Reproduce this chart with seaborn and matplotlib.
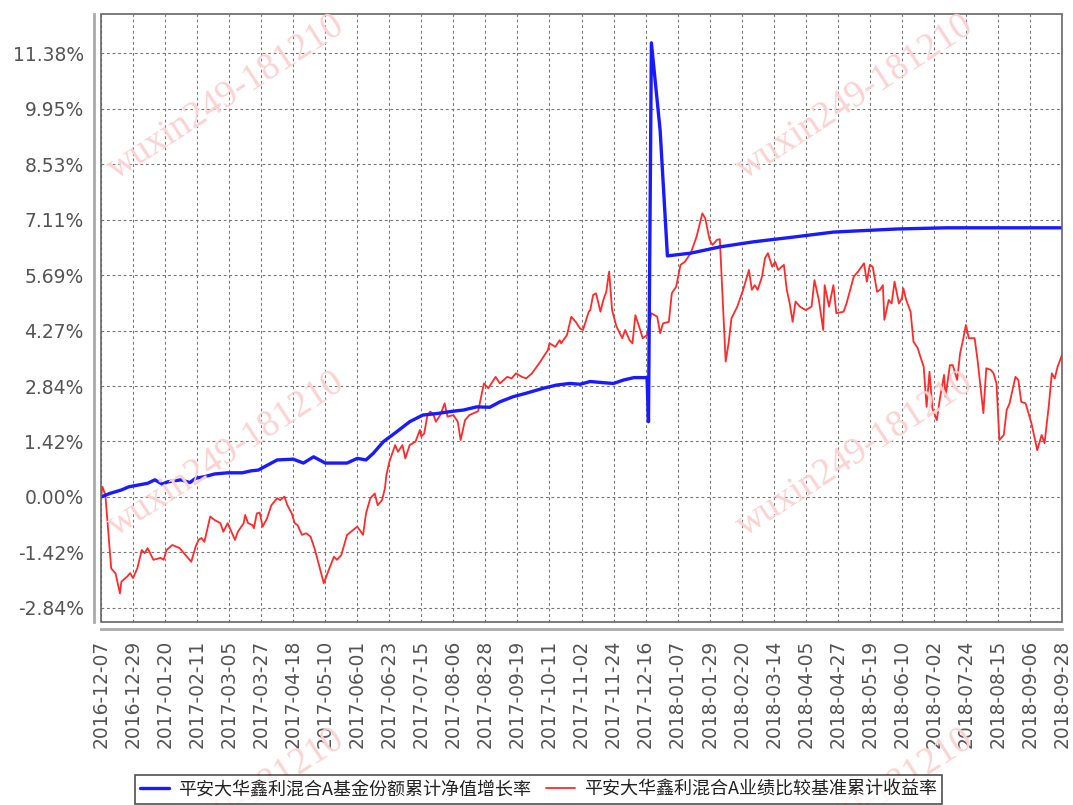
import pandas as pd
import numpy as np
import matplotlib
matplotlib.use('Agg')
import matplotlib.pyplot as plt
import matplotlib.patches as mpatches
import seaborn as sns

# days since 2016-12-07 and cumulative returns (%)
blue_day = [0, 6, 14, 19, 26, 32, 37, 42, 46, 55, 61, 65, 71, 78, 87, 97, 103, 108,
            121, 132, 139, 146, 154, 169, 176, 182, 187, 194, 203, 212, 221, 231,
            240, 249, 258, 267, 274, 283, 292, 304, 313, 322, 329, 336, 345, 352,
            359, 366, 375, 376, 378, 384, 389, 405, 425, 448, 475, 503, 519, 547,
            581, 620, 660]
blue_val = [0.00, 0.09, 0.18, 0.26, 0.31, 0.35, 0.44, 0.33, 0.39, 0.44, 0.37, 0.48,
            0.52, 0.59, 0.62, 0.62, 0.67, 0.69, 0.95, 0.97, 0.87, 1.03, 0.87, 0.87,
            0.99, 0.95, 1.12, 1.42, 1.67, 1.93, 2.10, 2.14, 2.19, 2.23, 2.31, 2.30,
            2.44, 2.57, 2.66, 2.79, 2.87, 2.91, 2.89, 2.96, 2.93, 2.91, 3.00, 3.06,
            3.06, 1.93, 11.64, 9.40, 6.18, 6.25, 6.41, 6.54, 6.66, 6.79, 6.82, 6.87,
            6.90, 6.90, 6.90]

red_day = [0, 1, 3, 7, 10, 13, 14, 18, 20, 22, 25, 28, 30, 32, 36, 41, 43, 45, 49,
           54, 59, 62, 65, 67, 69, 71, 75, 78, 82, 84, 87, 90, 92, 94, 98, 99, 101,
           104, 105, 107, 109, 111, 114, 117, 121, 123, 126, 128, 131, 133, 135, 138,
           141, 144, 147, 150, 153, 156, 160, 162, 165, 169, 173, 176, 180, 182, 185,
           188, 190, 193, 195, 196, 198, 202, 204, 207, 209, 212, 216, 219, 220, 222,
           224, 226, 228, 230, 233, 236, 238, 242, 245, 247, 250, 253, 259, 263, 266,
           271, 274, 279, 282, 285, 289, 292, 296, 301, 307, 308, 312, 315, 316, 320,
           323, 326, 329, 331, 335, 336, 338, 340, 343, 345, 347, 349, 351, 354, 358,
           360, 363, 365, 367, 370, 372, 375, 378, 382, 384, 386, 390, 392, 395, 398,
           401, 405, 409, 413, 415, 418, 420, 423, 425, 429, 431, 433, 437, 441, 445,
           447, 449, 451, 454, 456, 458, 461, 463, 465, 469, 471, 473, 475, 477, 480,
           484, 488, 490, 493, 496, 497, 500, 503, 505, 510, 512, 517, 520, 524, 526,
           528, 530, 533, 535, 537, 538, 541, 543, 545, 548, 550, 551, 553, 556, 558,
           561, 562, 565, 567, 569, 571, 574, 576, 579, 580, 583, 585, 588, 590, 592,
           594, 596, 600, 602, 605, 606, 608, 611, 613, 615, 617, 620, 622, 624, 628,
           630, 632, 635, 639, 643, 646, 648, 651, 653, 655, 657, 660]
red_val = [0.00, 0.26, 0.05, -1.83, -1.96, -2.47, -2.17, -2.04, -1.95, -2.08, -1.82,
           -1.36, -1.44, -1.31, -1.61, -1.56, -1.61, -1.36, -1.23, -1.31, -1.53, -1.66,
           -1.27, -1.10, -1.05, -1.15, -0.50, -0.59, -0.67, -0.89, -0.67, -0.93, -1.10,
           -0.89, -0.67, -0.46, -0.67, -0.72, -0.80, -0.42, -0.40, -0.76, -0.55, -0.21,
           -0.03, -0.08, 0.01, -0.21, -0.42, -0.67, -0.72, -0.97, -0.93, -1.02, -1.36,
           -1.79, -2.21, -1.91, -1.53, -1.61, -1.49, -0.97, -0.85, -0.76, -0.97, -0.42,
           -0.03, 0.09, -0.21, -0.08, 0.22, 0.56, 0.90, 1.33, 1.16, 1.33, 0.99, 1.33,
           1.42, 1.72, 1.55, 1.63, 2.06, 2.19, 2.14, 1.93, 2.10, 2.40, 2.06, 2.10, 1.93,
           1.46, 1.97, 2.10, 2.20, 2.91, 2.79, 3.08, 2.91, 3.08, 3.04, 3.17, 3.08, 3.04,
           3.17, 3.43, 3.77, 3.94, 3.85, 4.02, 3.94, 4.15, 4.62, 4.49, 4.32, 4.28, 4.75,
           4.79, 5.18, 5.22, 4.75, 5.05, 5.26, 5.78, 4.79, 4.37, 4.07, 4.28, 4.02, 3.94,
           4.66, 4.32, 4.07, 4.15, 4.71, 4.62, 4.20, 4.45, 4.49, 5.22, 5.39, 5.95, 6.03,
           6.25, 6.67, 7.27, 7.14, 6.59, 6.46, 6.59, 6.61, 3.47, 3.94, 4.58, 4.88, 5.31,
           5.82, 5.31, 5.43, 5.31, 5.65, 6.12, 6.25, 5.90, 6.03, 5.82, 5.95, 5.31, 4.96,
           4.49, 5.01, 4.88, 4.79, 4.88, 5.56, 5.05, 4.28, 5.43, 4.88, 5.43, 4.71, 4.75,
           4.96, 5.65, 5.78, 5.99, 5.52, 5.95, 5.90, 5.26, 5.31, 5.43, 4.54, 5.05, 4.96,
           5.52, 4.96, 5.09, 5.35, 5.05, 4.75, 3.98, 3.81, 3.68, 3.34, 2.31, 3.21, 2.27,
           1.97, 2.49, 3.13, 2.57, 3.38, 3.38, 3.00, 3.68, 4.02, 4.41, 4.07, 4.07, 3.51,
           2.49, 2.15, 3.30, 3.26, 3.17, 2.91, 1.46, 1.59, 2.23, 2.40, 3.08, 3.00, 2.44,
           2.40, 1.89, 1.20, 1.59, 1.38, 2.36, 3.17, 3.04, 3.34, 3.64]

start = pd.Timestamp('2016-12-07')
tick_dates = pd.date_range(start, periods=31, freq='22D')
ytick_vals = [-2.845, -1.4225, 0.0, 1.4225, 2.845, 4.2675, 5.69, 7.1125, 8.535, 9.9575, 11.38]
ytick_labels = ['-2.84%', '-1.42%', '0.00%', '1.42%', '2.84%', '4.27%', '5.69%',
                '7.11%', '8.53%', '9.95%', '11.38%']
blue_name = '平安大华鑫利混合A基金份额累计净值增长率'
red_name = '平安大华鑫利混合A业绩比较基准累计收益率'

blue = pd.DataFrame({'date': start + pd.to_timedelta(blue_day, unit='D'), 'val': blue_val})
red = pd.DataFrame({'date': start + pd.to_timedelta(red_day, unit='D'), 'val': red_val})

sns.set_style('white')
plt.rcParams['font.family'] = ['DejaVu Sans', 'Noto Sans CJK SC']

fig = plt.figure(figsize=(10.73, 8.05), dpi=100)
ax = fig.add_axes([101 / 1073, 1 - 622 / 805, 961 / 1073, 608 / 805])

# watermarks
for wx, wy in [(226, 97), (855, 97), (226, 454), (855, 454), (226, 811), (855, 811)]:
    fig.text(wx / 1073, 1 - wy / 805, 'wuxin249-181210', rotation=33, ha='center',
             va='center', fontsize=27, family='Liberation Serif', color='#fcd2d2',
             zorder=0)

sns.lineplot(data=blue, x='date', y='val', ax=ax, color='#1a1aff', lw=2.4, zorder=4)
sns.lineplot(data=red, x='date', y='val', ax=ax, color='#ff2a2a', lw=1.3, zorder=3)

ax.set_xlim(start, tick_dates[-1])
ax.set_ylim(-3.204, 12.38)
ax.set_xticks(tick_dates)
ax.set_xticklabels([d.strftime('%Y-%m-%d') for d in tick_dates])
ax.set_yticks(ytick_vals)
ax.set_yticklabels(ytick_labels)
ax.set_xlabel('')
ax.set_ylabel('')
ax.patch.set_alpha(0)

ax.grid(True, color='#777777', linestyle=(0, (2.5, 2.5)), lw=0.8)
ax.tick_params(axis='both', colors='#666666', labelsize=13.5, length=4, width=1,
               labelcolor='#555555')
ax.tick_params(axis='x', labelrotation=90)

for side in ['left', 'bottom']:
    ax.spines[side].set_position(('outward', 5))
    ax.spines[side].set_color('#aaaaaa')
    ax.spines[side].set_linewidth(2)
for side in ['top', 'right']:
    ax.spines[side].set_visible(False)
ax.add_patch(mpatches.Rectangle((0, 0), 1, 1, transform=ax.transAxes, fill=False,
                                edgecolor='#666666', lw=1.2, clip_on=False, zorder=5))

handles = [plt.Line2D([], [], color='#1a1aff', lw=2.4),
           plt.Line2D([], [], color='#ff2a2a', lw=1.3)]
leg = fig.legend(handles, [blue_name, red_name], loc='upper left',
                 bbox_to_anchor=(135 / 1073, 1 - 775 / 805), ncol=2, frameon=True,
                 fancybox=False, edgecolor='#222222', handlelength=1.6,
                 columnspacing=0.8, handletextpad=0.5, borderpad=0.3,
                 borderaxespad=0, prop={'family': ['Noto Sans CJK SC', 'DejaVu Sans'],
                                        'size': 13})
leg.get_frame().set_linewidth(1.2)
for t in leg.get_texts():
    t.set_color('#222222')

plt.savefig('out.png', dpi=100)
